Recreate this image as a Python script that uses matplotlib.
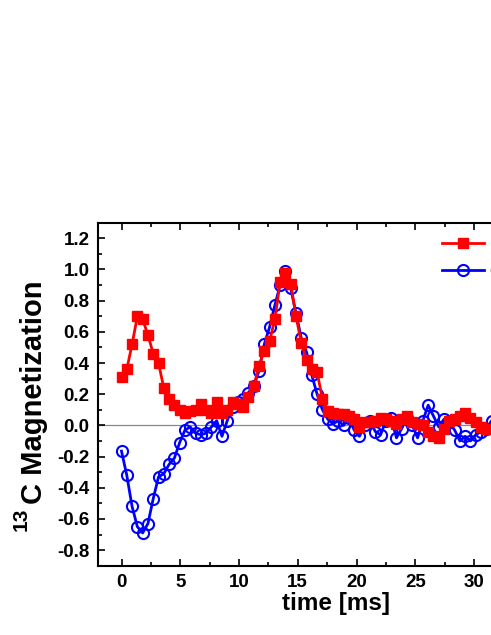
import numpy as np
import matplotlib
matplotlib.use("Agg")
import matplotlib.pyplot as plt
from matplotlib.ticker import MultipleLocator, FormatStrFormatter

plt.rcParams['font.family'] = ['Liberation Sans', 'DejaVu Sans']
plt.rcParams['font.weight'] = 'bold'

time_step_ms = 0.45
red_values = [0.31, 0.36, 0.52, 0.70, 0.68, 0.58, 0.46, 0.40, 0.24, 0.17,
              0.13, 0.10, 0.08, 0.09, 0.10, 0.14, 0.10, 0.08, 0.15, 0.08,
              0.10, 0.15, 0.14, 0.12, 0.18, 0.25, 0.38, 0.48, 0.54, 0.68,
              0.92, 0.98, 0.91, 0.70, 0.53, 0.42, 0.36, 0.34, 0.17, 0.09,
              0.08, 0.07, 0.07, 0.06, 0.04, -0.01, 0.02, 0.02, 0.03, 0.05,
              0.04, 0.03, 0.01, 0.04, 0.06, 0.02, 0.01, 0.00, -0.04, -0.07,
              -0.08, -0.02, 0.03, 0.04, 0.06, 0.08, 0.05, 0.02, -0.01, -0.02,
              -0.02, -0.01]
blue_values = [-0.165, -0.32, -0.52, -0.65, -0.69, -0.63, -0.47, -0.33, -0.31, -0.25,
               -0.21, -0.11, -0.03, -0.01, -0.05, -0.06, -0.05, -0.01, 0.03, -0.07,
               0.03, 0.12, 0.15, 0.17, 0.21, 0.25, 0.35, 0.52, 0.63, 0.77,
               0.90, 0.99, 0.88, 0.72, 0.56, 0.47, 0.32, 0.20, 0.10, 0.04,
               0.01, 0.03, 0.00, 0.05, -0.03, -0.07, 0.00, 0.03, -0.04, -0.06,
               0.03, 0.05, -0.08, -0.02, 0.05, 0.00, -0.08, 0.03, 0.13, 0.06,
               -0.01, 0.04, 0.02, -0.03, -0.10, -0.07, -0.10, -0.06, -0.04, -0.02,
               0.03, 0.02]
red_time = np.arange(len(red_values)) * time_step_ms
blue_time = np.arange(len(blue_values)) * time_step_ms
legend_labels = ["CP", "CP echo"]

W, H = 491, 635
fig = plt.figure(figsize=(W / 100, H / 100), dpi=100)
left_px, top_px, bottom_px = 98, 222.7, 565.7
px_per_ms = 11.75
x_min, x_max = -2, 34
right_px = left_px + (x_max - x_min) * px_per_ms
ax = fig.add_axes([left_px / W, (H - bottom_px) / H,
                   (right_px - left_px) / W, (bottom_px - top_px) / H])

ax.axhline(0, color='#888888', lw=0.9, zorder=1)
ax.plot(red_time, red_values, color='#ff0000', lw=2.0, marker='s', ms=7.5,
        mfc='#ff0000', mec='#ff0000', label=legend_labels[0], zorder=3)
ax.plot(blue_time, blue_values, color='#0000ff', lw=2.0, marker='o', ms=8,
        mfc='none', mec='#0000ff', mew=1.5, label=legend_labels[1], zorder=2)

ax.set_xlim(x_min, x_max)
ax.set_ylim(-0.9, 1.3)
ax.xaxis.set_major_locator(MultipleLocator(5))
ax.xaxis.set_minor_locator(MultipleLocator(2.5))
ax.yaxis.set_major_locator(MultipleLocator(0.2))
ax.yaxis.set_minor_locator(MultipleLocator(0.1))
ax.yaxis.set_major_formatter(FormatStrFormatter('%.1f'))
ax.tick_params(which='both', direction='in', top=True, right=True, width=1.2)
ax.tick_params(which='major', length=5, labelsize=13.5, pad=6)
ax.tick_params(which='minor', length=3)
for lbl in ax.get_xticklabels() + ax.get_yticklabels():
    lbl.set_fontweight('bold')
for s in ax.spines.values():
    s.set_linewidth(1.5)

ax.set_xlabel('time [ms]', fontsize=17.5, fontweight='bold', labelpad=1)
ax.xaxis.label.set_x((336.5 - left_px) / (right_px - left_px))

# y label: "13" superscript + "C Magnetization"
fig.text(42 / W, (H - 392) / H, 'C Magnetization', rotation=90,
         rotation_mode='anchor', ha='center', va='baseline',
         fontsize=21, fontweight='bold')
fig.text(27 / W, (H - 519) / H, '13', rotation=90,
         rotation_mode='anchor', ha='center', va='baseline',
         fontsize=15, fontweight='bold')

leg = ax.legend(loc='upper left', bbox_to_anchor=(442 / W, (H - 236) / H),
                bbox_transform=fig.transFigure, frameon=False, fontsize=13.5,
                handlelength=2.25, handletextpad=0.3, borderpad=0, labelspacing=0.55,
                borderaxespad=0)
for t in leg.get_texts():
    t.set_fontweight('bold')

fig.savefig('out.png', dpi=100)
